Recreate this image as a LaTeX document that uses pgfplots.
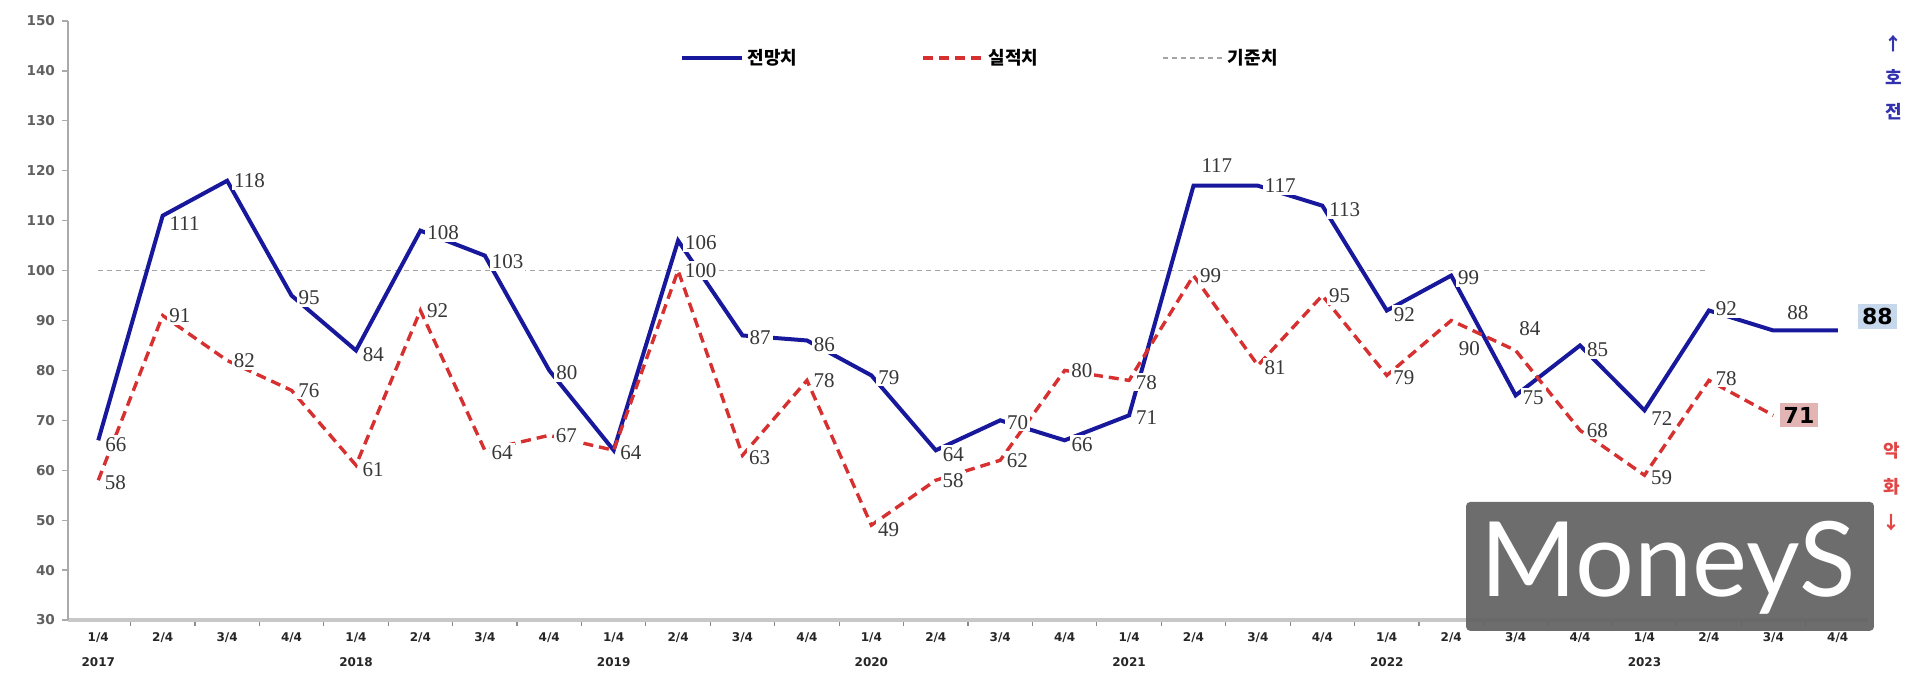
\documentclass[border=0pt]{standalone}
\usepackage{fontspec}
\usepackage{pgfplots}
\usepackage{pgfplotstable}
\pgfplotsset{compat=1.18}
\setmainfont{Liberation Serif}
\newfontfamily\kr{Noto Sans CJK KR}
\newfontfamily\tickfont{DejaVu Sans}
\newfontfamily\logofont{Lato}

\definecolor{fcblue}{RGB}{24,24,156}
\definecolor{acred}{RGB}{214,48,48}
\definecolor{refgray}{RGB}{165,165,165}
\definecolor{axgray}{RGB}{200,200,200}
\definecolor{boxblue}{RGB}{200,216,236}
\definecolor{boxred}{RGB}{226,180,180}
\definecolor{lblgray}{RGB}{55,55,55}
\definecolor{upblue}{RGB}{50,50,175}
\definecolor{downred}{RGB}{225,70,70}

% forecast (전망치): quarter index, value, label shift (pt), label shown (1/0)
\pgfplotstableread{
x y dx dy sh
0 66 1.5 -2 1
1 111 1.5 -4 1
2 118 1.5 0 1
3 95 1.5 -1 1
4 84 1.5 -2 1
5 108 1.5 -1 1
6 103 1.5 -3 1
7 80 1.5 -1 1
8 64 1.5 -2 1
9 106 1.5 -1 1
10 87 1.5 -1 1
11 86 1.5 -2 1
12 79 1.5 -1 1
13 64 1.5 -2 1
14 70 1.5 -1 1
15 66 1.5 -2 1
16 71 1.5 -1 1
17 117 2 10 1
18 117 1.5 0 1
19 113 1.5 -2 1
20 92 1.5 -2 1
21 99 1.5 -1 1
22 75 1.5 -1 1
23 85 1.5 -2 1
24 72 1.5 -4 1
25 92 1.5 1 1
26 88 5 9 1
27 88 0 0 0
}\forecast

% result (실적치)
\pgfplotstableread{
x y dx dy sh
0 58 1.5 -1 1
1 91 1.5 0 1
2 82 1.5 0 1
3 76 1.5 0 1
4 61 1.5 -2 1
5 92 1.5 0 1
6 64 1.5 -1 1
7 67 1.5 0 1
8 64 1.5 -1 1
9 100 1.5 0 1
10 63 1.5 -1 1
11 78 1.5 0 1
12 49 1.5 -2 1
13 58 1.5 0 1
14 62 1.5 0 1
15 80 1.5 0 1
16 78 1.5 -1 1
17 99 1.5 0 1
18 81 1.5 -1 1
19 95 1.5 0 1
20 79 1.5 -1 1
21 90 2 -14 1
22 84 0 11 1
23 68 1.5 0 1
24 59 1.5 -1 1
25 78 1.5 1 1
26 71 0 0 0
}\result

\pgfplotsset{
  lbls/.style={
    point meta=y,
    visualization depends on={\thisrow{dx} \as \ldx},
    visualization depends on={\thisrow{dy} \as \ldy},
    visualization depends on={\thisrow{sh} \as \lsh},
    nodes near coords={\pgfmathprintnumber{\pgfplotspointmeta}},
    every node near coord/.append style={anchor=west, xshift=\ldx pt, yshift=\ldy pt,
      fill=white, fill opacity=\lsh, text opacity=\lsh, inner sep=1pt, text=lblgray,
      font=\fontsize{10.5}{11}\selectfont},
  },
  boxlbl/.style={
    draw=none, mark=none, forget plot, point meta=y,
    nodes near coords={\pgfmathprintnumber{\pgfplotspointmeta}},
    every node near coord/.append style={anchor=west, fill=#1, inner sep=2pt,
      text=black, font=\tickfont\bfseries\fontsize{11}{12}\selectfont},
  },
}

\begin{document}
\begin{tikzpicture}
\path[use as bounding box] (0,0) rectangle (960pt,340pt);
\begin{axis}[
  at={(34pt,30pt)}, anchor=south west,
  scale only axis, width=900pt, height=299.5pt,
  xmin=-0.47, xmax=27.47, ymin=30, ymax=150,
  clip=false,
  axis x line*=bottom, axis y line*=left,
  axis line style={-},
  x axis line style={axgray, line width=2pt},
  y axis line style={axgray!85!black, line width=0.6pt},
  ytick={30,40,...,150},
  xtick={0,...,27},
  minor x tick num=1,
  tick align=outside,
  major tick length=3pt, minor tick length=3pt,
  major x tick style={draw=none},
  minor x tick style={axgray!70!black, line width=0.6pt},
  major y tick style={axgray!85!black, line width=0.6pt},
  /pgf/number format/assume math mode=true,
  yticklabel style={font=\tickfont\bfseries\fontsize{6.8}{7}\selectfont, text=gray!75!black},
  xticklabel style={font=\tickfont\bfseries\fontsize{6}{12.5}\selectfont, align=center, text=black!85},
  xticklabels={{1/4\\2017},2/4,3/4,4/4,{1/4\\2018},2/4,3/4,4/4,{1/4\\2019},2/4,3/4,4/4,
    {1/4\\2020},2/4,3/4,4/4,{1/4\\2021},2/4,3/4,4/4,{1/4\\2022},2/4,3/4,4/4,{1/4\\2023},2/4,3/4,4/4},
  legend columns=3,
  legend style={at={(0.507,0.938)}, anchor=center, draw=none, fill=none,
    font=\kr\bfseries\fontsize{9}{10}\selectfont,
    /tikz/every even column/.append style={column sep=60pt}},
  legend image code/.code={\draw[#1] (0pt,0pt) -- (30pt,0pt);},
]
\addplot[refgray, line width=0.8pt, dash pattern=on 2.5pt off 2pt, forget plot]
  coordinates {(0,100) (25,100)};
\addplot[fcblue, line width=2pt, mark=none, lbls] table[x=x, y=y] \forecast;
\addlegendentry{전망치}
\addplot[acred, line width=1.7pt, dash pattern=on 5pt off 3pt, mark=none, lbls] table[x=x, y=y] \result;
\addlegendentry{실적치}
\addlegendimage{refgray, line width=0.8pt, dash pattern=on 2.5pt off 2pt}
\addlegendentry{기준치}
% latest values, boxed
\addplot[boxlbl=boxblue, every node near coord/.append style={xshift=10pt, yshift=7pt}]
  coordinates {(27,88)};
\addplot[boxlbl=boxred, every node near coord/.append style={xshift=3pt}]
  coordinates {(26,71)};

\node[align=center, text=upblue, font=\kr\bfseries\fontsize{9}{17}\selectfont]
  at (rel axis cs:1.0144,0.906) {↑\\호\\전};
\node[align=center, text=downred, font=\kr\bfseries\fontsize{9}{18}\selectfont]
  at (rel axis cs:1.0133,0.222) {악\\화\\↓};

% watermark
\fill[black!62, opacity=0.92, rounded corners=2pt]
  (rel axis cs:0.7767,-0.018) rectangle (rel axis cs:1.0033,0.197);
\node[text=white, font=\logofont\fontsize{52}{52}\selectfont]
  at (rel axis cs:0.889,0.088) {MoneyS};
\end{axis}
\end{tikzpicture}
\end{document}
